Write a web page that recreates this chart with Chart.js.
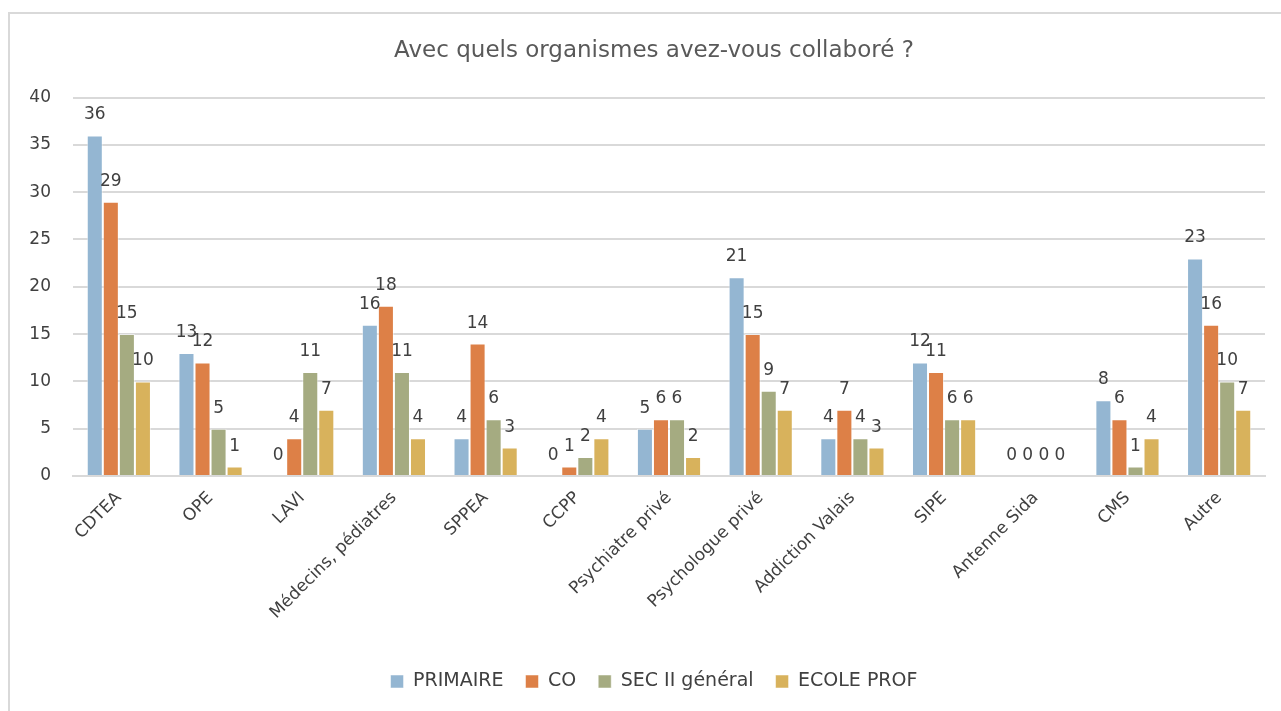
<!DOCTYPE html>
<html>
<head>
<meta charset="utf-8">
<script src="https://cdn.jsdelivr.net/npm/chart.js@4"></script>
<style>
  html, body { margin: 0; padding: 0; background: #fff; }
  #wrap { width: 1281px; height: 711px; position: relative; }
</style>
</head>
<body>
<div id="wrap"><canvas id="myChart" width="1281" height="711"></canvas></div>
<script>
const categories = ['CDTEA', 'OPE', 'LAVI', 'Médecins, pédiatres', 'SPPEA', 'CCPP', 'Psychiatre privé',
  'Psychologue privé', 'Addiction Valais', 'SIPE', 'Antenne Sida', 'CMS', 'Autre']
const primaire = [36, 13, 0, 16, 4, 0, 5, 21, 4, 12, 0, 8, 23]
const co = [29, 12, 4, 18, 14, 1, 6, 15, 7, 11, 0, 6, 16]
const secII = [15, 5, 11, 11, 6, 2, 6, 9, 4, 6, 0, 1, 10]
const ecoleProf = [10, 1, 7, 4, 3, 4, 2, 7, 3, 6, 0, 4, 7]
const yTicks = [0, 5, 10, 15, 20, 25, 30, 35, 40]

const fontFamily = '"DejaVu Sans", sans-serif'
const textColor = '#404040'

// draws the value over each bar, like Excel data labels
const valueLabels = {
  id: 'valueLabels',
  afterDatasetsDraw(chart) {
    const ctx = chart.ctx
    ctx.save()
    ctx.font = '17px ' + fontFamily
    ctx.fillStyle = textColor
    ctx.textAlign = 'center'
    ctx.textBaseline = 'alphabetic'
    chart.data.datasets.forEach((ds, i) => {
      chart.getDatasetMeta(i).data.forEach((bar, j) => {
        ctx.fillText(ds.data[j], bar.x, bar.y - 16)
      })
    })
    ctx.restore()
  }
}

// y tick labels drawn by hand: the y axis box is narrow so the
// built-in labels would be clipped
const yLabels = {
  id: 'yLabels',
  afterDraw(chart) {
    const ctx = chart.ctx
    const y = chart.scales.y
    ctx.save()
    ctx.font = '17px ' + fontFamily
    ctx.fillStyle = textColor
    ctx.textAlign = 'right'
    ctx.textBaseline = 'middle'
    yTicks.forEach(v => ctx.fillText(v, chart.chartArea.left - 22, y.getPixelForValue(v)))
    ctx.restore()
  }
}

// light frame around the chart
const frame = {
  id: 'frame',
  beforeDraw(chart) {
    const ctx = chart.ctx
    ctx.save()
    ctx.strokeStyle = '#d9d9d9'
    ctx.lineWidth = 2
    ctx.beginPath()
    ctx.moveTo(9, 711)
    ctx.lineTo(9, 13)
    ctx.lineTo(1281, 13)
    ctx.stroke()
    ctx.restore()
  }
}

const ctx = document.getElementById('myChart')

const myChart = new Chart(ctx, {
  type: 'bar',
  data: {
    labels: categories,
    datasets: [
      { label: 'PRIMAIRE', data: primaire, backgroundColor: '#94b6d2' },
      { label: 'CO', data: co, backgroundColor: '#dd8047' },
      { label: 'SEC II général', data: secII, backgroundColor: '#a5ab81' },
      { label: 'ECOLE PROF', data: ecoleProf, backgroundColor: '#d8b25c' }
    ]
  },
  options: {
    responsive: false,
    animation: false,
    // left padding keeps title and legend centred like the original frame
    layout: { padding: { left: 43, right: 16, top: 12, bottom: 10 } },
    datasets: {
      bar: {
        categoryPercentage: 0.7,
        barPercentage: 1,
        borderWidth: 1,
        borderColor: 'rgba(255,255,255,0.5)'
      }
    },
    plugins: {
      title: {
        display: true,
        text: 'Avec quels organismes avez-vous collaboré ?',
        color: '#595959',
        font: { family: fontFamily, size: 23, weight: 'normal' },
        padding: { top: 25, bottom: 33 }
      },
      legend: {
        position: 'bottom',
        labels: {
          color: textColor,
          font: { family: fontFamily, size: 19 },
          boxWidth: 13,
          boxHeight: 13,
          padding: 22
        }
      },
      tooltip: { enabled: false }
    },
    scales: {
      x: {
        grid: { display: false },
        border: { color: '#d9d9d9', width: 2 },
        ticks: {
          color: textColor,
          font: { family: fontFamily, size: 17 },
          minRotation: 45,
          maxRotation: 45,
          padding: 4
        },
        afterFit(scale) { scale.height = 174 }
      },
      y: {
        min: 0,
        max: 40,
        afterBuildTicks(scale) { scale.ticks = yTicks.map(v => ({ value: v })) },
        grid: { color: '#d9d9d9', lineWidth: 2, drawTicks: false },
        border: { display: false },
        ticks: { display: false },
        afterFit(scale) { scale.width = 30 }
      }
    }
  },
  plugins: [frame, valueLabels, yLabels]
})
</script>
</body>
</html>
